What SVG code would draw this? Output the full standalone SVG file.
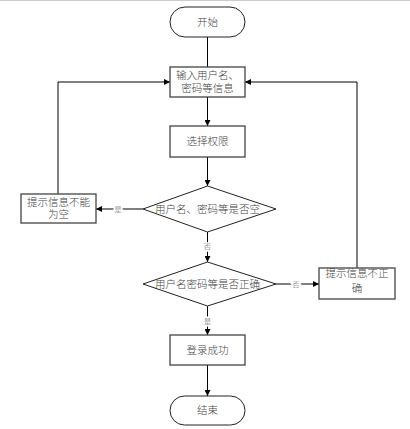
<svg xmlns="http://www.w3.org/2000/svg" width="410" height="429" viewBox="0 0 410 429">
<style>
text{font-family:"Liberation Serif","Noto Sans CJK SC",serif;fill:#444;text-anchor:middle;font-weight:300}
.t{font-size:10.5px}
.l{font-size:7px;stroke:#fff;stroke-width:3px;paint-order:stroke;fill:#444}
.box{fill:#fff;stroke:#444;stroke-width:1.3}
.term{fill:#fff;stroke:#222;stroke-width:1}
.c{fill:none;stroke:#000;stroke-width:1}
</style>
<defs>
<marker id="a" viewBox="0 0 10 10" refX="10" refY="5" markerWidth="6" markerHeight="6" markerUnits="userSpaceOnUse" orient="auto"><path d="M0,0L10,5L0,10z" fill="#000"/></marker>
</defs>
<rect x="0" y="0" width="410" height="429" fill="#fff"/>
<line x1="0" y1="0.5" x2="410" y2="0.5" stroke="#ccc" stroke-width="1"/>
<g id="connectors">
<path class="c" d="M207.5,37V67"/>
<path class="c" d="M207.5,97V126" marker-end="url(#a)"/>
<path class="c" d="M207.5,157V186" marker-end="url(#a)"/>
<path class="c" d="M143,209H96" marker-end="url(#a)"/>
<path class="c" d="M58,194V82H170" marker-end="url(#a)"/>
<path class="c" d="M207.5,232V262" marker-end="url(#a)"/>
<path class="c" d="M276,284H319" marker-end="url(#a)"/>
<path class="c" d="M357,268V82H245" marker-end="url(#a)"/>
<path class="c" d="M207.5,306V335" marker-end="url(#a)"/>
<path class="c" d="M207.5,365V396" marker-end="url(#a)"/>
<text class="l" x="118" y="211.5">是</text>
<text class="l" x="207.5" y="248.5">否</text>
<text class="l" x="296" y="286.5">否</text>
<text class="l" x="207.5" y="323.5">是</text>
</g>
<g id="start"><rect class="term" x="170" y="7" width="75" height="30" rx="15"/><text class="t" x="207.5" y="25.5">开始</text></g>
<g id="input"><rect class="box" x="170" y="67" width="75" height="30"/><text class="t" x="207.5" y="79">输入用户名、</text><text class="t" x="207.5" y="92">密码等信息</text></g>
<g id="select"><rect class="box" x="170" y="126" width="75" height="31"/><text class="t" x="207.5" y="145">选择权限</text></g>
<g id="check-empty"><path class="term" d="M207.5,186L276,209L207.5,232L143,209Z"/><text class="t" x="207.5" y="212.5">用户名、密码等是否空</text></g>
<g id="empty-tip"><rect class="box" x="21" y="194" width="75" height="29"/><text class="t" x="58.5" y="205.5">提示信息不能</text><text class="t" x="58.5" y="218">为空</text></g>
<g id="check-correct"><path class="term" d="M207.5,262L276,284L207.5,306L143,284Z"/><text class="t" x="207.5" y="287.5">用户名密码等是否正确</text></g>
<g id="wrong-tip"><rect class="box" x="319" y="268" width="76" height="31"/><text class="t" x="357" y="277">提示信息不正</text><text class="t" x="357" y="292">确</text></g>
<g id="success"><rect class="box" x="170" y="335" width="75" height="30"/><text class="t" x="207.5" y="353.5">登录成功</text></g>
<g id="end"><rect class="term" x="170" y="396" width="75" height="29" rx="14.5"/><text class="t" x="207.5" y="414">结束</text></g>
</svg>
